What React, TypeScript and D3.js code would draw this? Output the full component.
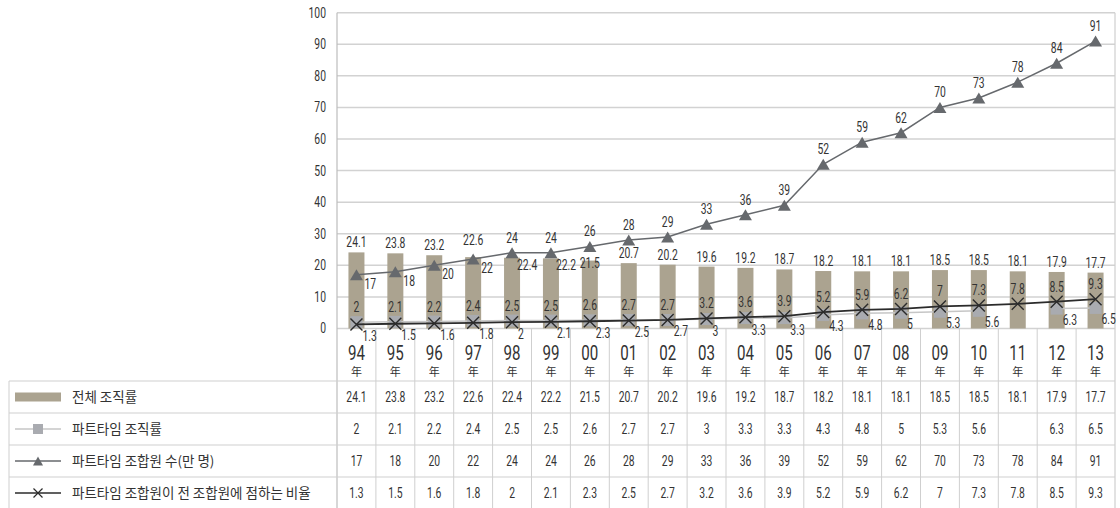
import React from 'react';
import * as d3 from 'd3';

// 연도별 데이터 (1994 ~ 2013)
const years = ['94', '95', '96', '97', '98', '99', '00', '01', '02', '03', '04', '05', '06', '07', '08', '09', '10', '11', '12', '13'];
const totalRate = [24.1, 23.8, 23.2, 22.6, 22.4, 22.2, 21.5, 20.7, 20.2, 19.6, 19.2, 18.7, 18.2, 18.1, 18.1, 18.5, 18.5, 18.1, 17.9, 17.7];
const partRate: (number | null)[] = [2, 2.1, 2.2, 2.4, 2.5, 2.5, 2.6, 2.7, 2.7, 3, 3.3, 3.3, 4.3, 4.8, 5, 5.3, 5.6, null, 6.3, 6.5];
const partMembers = [17, 18, 20, 22, 24, 24, 26, 28, 29, 33, 36, 39, 52, 59, 62, 70, 73, 78, 84, 91];
const partShare = [1.3, 1.5, 1.6, 1.8, 2, 2.1, 2.3, 2.5, 2.7, 3.2, 3.6, 3.9, 5.2, 5.9, 6.2, 7, 7.3, 7.8, 8.5, 9.3];
const yTicks = [0, 10, 20, 30, 40, 50, 60, 70, 80, 90, 100];
const seriesNames = ['전체 조직률', '파트타임 조직률', '파트타임 조합원 수(만 명)', '파트타임 조합원이 전 조합원에 점하는 비율'];

const W = 1120;
const H = 508;
const NUM_FONT = 'Roboto, "Liberation Sans", sans-serif';
const KR_FONT = '"Noto Sans CJK KR", "Noto Sans", sans-serif';
const TXT = '#333';
const BAR = '#aba390';
const SQ = '#a9abb0';
const SQ_LINE = '#c6c6c6';
const TRI = '#66696d';
const XCOL = '#2b2b2b';
const GRID = '#d2d2d2';

const tri = (cx: number, cy: number, w = 13, h = 11) =>
  `M${cx},${cy - h / 2}L${cx + w / 2},${cy + h / 2}L${cx - w / 2},${cy + h / 2}Z`;
const cross = (cx: number, cy: number, r = 6) =>
  `M${cx - r},${cy - r}L${cx + r},${cy + r}M${cx + r},${cy - r}L${cx - r},${cy + r}`;

// condensed numeric text (no condensed font installed, so squeeze horizontally)
function T({ x, y, children, anchor = 'middle', size = 14, sx = 0.74, dy }: any) {
  return (
    <text
      transform={`translate(${x},${y}) scale(${sx},1)`}
      textAnchor={anchor}
      dy={dy}
      fontFamily={NUM_FONT}
      fontSize={size}
      fill={TXT}
    >
      {children}
    </text>
  );
}

export default function App() {
  const x = d3.scaleBand<string>().domain(years).range([337, 1115]).padding(0);
  const y = d3.scaleLinear().domain([0, 100]).range([328.5, 12.7]);
  const bw = x.bandwidth();
  const cx = (i: number) => (x(years[i]) as number) + bw / 2;

  const lineGen = d3
    .line<number | null>()
    .defined(d => d != null)
    .x((_, i) => cx(i))
    .y(d => y(d as number));

  const rowTop = [381, 413, 445, 477, 509];
  const tableLeft = 9;
  const right = 1115;

  return (
    <svg width={W} height={H} style={{ position: 'absolute', left: 0, top: 0, background: '#fff' }}>
      {/* gridlines */}
      {yTicks.map(t => (
        <line key={'g' + t} x1={337} x2={right} y1={y(t)} y2={y(t)} stroke={GRID} strokeWidth={1.5} />
      ))}
      <line x1={337} x2={337} y1={y(100)} y2={H} stroke="#bdbdbd" strokeWidth={1.2} />
      <line x1={right} x2={right} y1={y(100)} y2={H} stroke="#cfcfcf" strokeWidth={1.2} />
      {yTicks.map(t => (
        <T key={'yt' + t} x={326} y={y(t)} dy="0.35em" anchor="end">
          {t}
        </T>
      ))}

      {/* category / table grid */}
      {years.map((yr, i) =>
        i > 0 ? (
          <line key={'v' + yr} x1={x(yr)} x2={x(yr)} y1={y(0)} y2={H} stroke="#cfcfcf" strokeWidth={1} />
        ) : null
      )}
      {rowTop.map((r, i) => (
        <line key={'h' + i} x1={tableLeft} x2={right} y1={r} y2={r} stroke="#cfcfcf" strokeWidth={1} />
      ))}
      <line x1={tableLeft} x2={tableLeft} y1={rowTop[0]} y2={H} stroke="#cfcfcf" strokeWidth={1} />

      {/* bars */}
      {totalRate.map((v, i) => (
        <rect key={'b' + i} x={cx(i) - 8} width={16} y={y(v)} height={y(0) - y(v)} fill={BAR} />
      ))}

      {/* part-time rate line + squares */}
      <path d={lineGen(partRate) || ''} fill="none" stroke={SQ_LINE} strokeWidth={1.5} />
      {partRate.map((v, i) =>
        v == null ? null : <rect key={'s' + i} x={cx(i) - 6} y={y(v) - 6} width={12} height={12} fill={SQ} />
      )}

      {/* members line + triangles */}
      <path d={lineGen(partMembers) || ''} fill="none" stroke={TRI} strokeWidth={1.5} />
      {partMembers.map((v, i) => (
        <path key={'t' + i} d={tri(cx(i), y(v))} fill={TRI} />
      ))}

      {/* share line + crosses */}
      <path d={lineGen(partShare) || ''} fill="none" stroke={XCOL} strokeWidth={1.8} />
      {partShare.map((v, i) => (
        <path key={'x' + i} d={cross(cx(i), y(v))} stroke={XCOL} strokeWidth={1.4} fill="none" />
      ))}

      {/* bar labels */}
      {totalRate.map((v, i) => {
        const d = partMembers[i] - v;
        const close = d > 0 && d < 2;
        const near = d >= 2 && d < 5;
        const under = d <= 0 && d > -1.5;
        return (
          <T
            key={'bl' + i}
            x={close ? cx(i) + 5 : cx(i)}
            y={close ? y(v) + 12 : near ? y(v) + 7 : under ? y(v) - 12 : y(v) - 5}
            anchor={close ? 'start' : 'middle'}
          >
            {v}
          </T>
        );
      })}

      {/* members labels */}
      {partMembers.map((v, i) => {
        const inside = v < totalRate[i];
        return (
          <T
            key={'tl' + i}
            x={inside ? cx(i) + 8 : cx(i)}
            y={inside ? y(v) + 14 : y(v) - 10}
            anchor={inside ? 'start' : 'middle'}
          >
            {v}
          </T>
        );
      })}

      {/* part-time rate / share labels: larger above, smaller below-right */}
      {partShare.map((s, i) => {
        const p = partRate[i];
        const hi = p == null ? s : Math.max(s, p);
        const lo = p == null ? null : Math.min(s, p);
        return (
          <g key={'pl' + i}>
            <T x={cx(i)} y={y(hi) - 10}>
              {hi}
            </T>
            {lo != null && (
              <T x={cx(i) + 6} y={y(lo) + 16.5} anchor="start">
                {lo}
              </T>
            )}
          </g>
        );
      })}

      {/* category labels */}
      {years.map((yr, i) => (
        <g key={'c' + yr}>
          <T x={cx(i)} y={360} size={21} sx={0.72}>
            {yr}
          </T>
          <text x={cx(i)} y={376} textAnchor="middle" fontFamily={KR_FONT} fontSize={11} fill={TXT}>
            年
          </text>
        </g>
      ))}

      {/* data table */}
      {[totalRate, partRate, partMembers, partShare].map((row, r) => (
        <g key={'row' + r}>
          {row.map((v, i) =>
            v == null ? null : (
              <T key={i} x={cx(i)} y={(rowTop[r] + rowTop[r + 1]) / 2} dy="0.35em">
                {v}
              </T>
            )
          )}
        </g>
      ))}

      {/* legend column */}
      {seriesNames.map((name, r) => {
        const my = (rowTop[r] + rowTop[r + 1]) / 2;
        return (
          <g key={'lg' + r}>
            {r === 0 && <rect x={15} y={my - 4.5} width={46} height={9} fill={BAR} />}
            {r === 1 && (
              <g>
                <line x1={15} x2={61} y1={my} y2={my} stroke={SQ_LINE} strokeWidth={1.5} />
                <rect x={33} y={my - 5} width={10} height={10} fill={SQ} />
              </g>
            )}
            {r === 2 && (
              <g>
                <line x1={15} x2={61} y1={my} y2={my} stroke={TRI} strokeWidth={1.5} />
                <path d={tri(38, my, 10, 9)} fill={TRI} />
              </g>
            )}
            {r === 3 && (
              <g>
                <line x1={15} x2={61} y1={my} y2={my} stroke={XCOL} strokeWidth={1.6} />
                <path d={cross(38, my, 4.5)} stroke={XCOL} strokeWidth={1.2} fill="none" />
              </g>
            )}
            <text x={72} y={my} dy="0.35em" fontFamily={KR_FONT} fontSize={13.5} fill={TXT}>
              {name}
            </text>
          </g>
        );
      })}
    </svg>
  );
}
